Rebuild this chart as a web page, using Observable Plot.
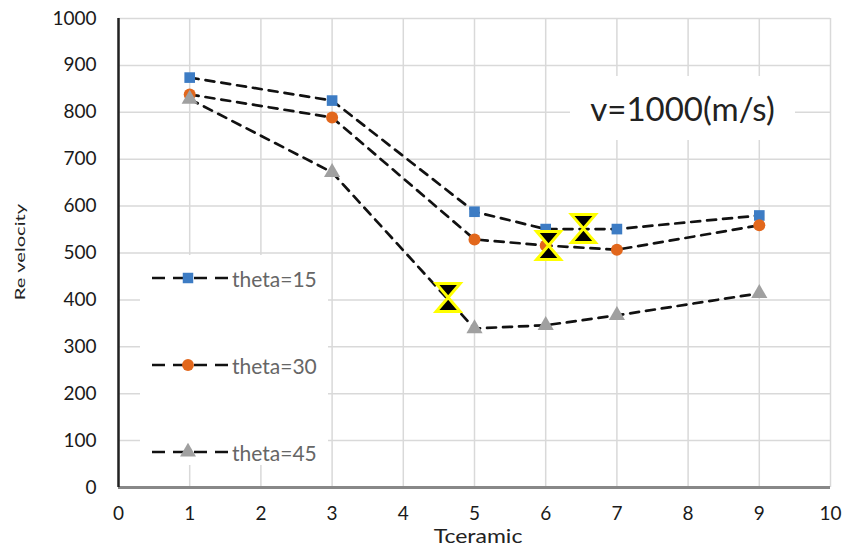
<!DOCTYPE html>
<html>
<head>
<meta charset="utf-8">
<script src="https://cdn.jsdelivr.net/npm/d3@7"></script>
<script src="https://cdn.jsdelivr.net/npm/@observablehq/plot@0.6"></script>
<style>
  html, body { margin: 0; padding: 0; background: #fff; }
  #wrap { position: relative; width: 853px; height: 549px; font-family: Lato, "Liberation Sans", sans-serif; }
  .legend { position: absolute; left: 140px; top: 255px; width: 188px; height: 210px; background: #fff; }
  .legend .item { position: absolute; left: 0; display: flex; align-items: center; height: 24px; font-size: 21px; color: #666; }
  .note { position: absolute; left: 570px; top: 76px; width: 225px; height: 64px; background: #fff;
          display: flex; align-items: center; justify-content: center; font-size: 33px; color: #222; white-space: nowrap; }
  .ylab { position: absolute; left: 20px; top: 252px; transform: translate(-50%, -50%) rotate(-90deg) scaleX(1.55); font-size: 13px; color: #222; white-space: nowrap; }
  .xlab { position: absolute; left: 478px; top: 535px; transform: translate(-50%, -50%) scaleX(1.15); font-size: 20px; line-height: 20px; color: #222; white-space: nowrap; }
</style>
</head>
<body>
<div id="wrap"></div>
<script>
const xValues = [1, 3, 5, 6, 7, 9];
const theta15 = [874, 825, 588, 551, 551, 580];
const theta30 = [838, 789, 529, 516, 507, 559];
const theta45 = [828, 672, 339, 346, 367, 414];
const seriesNames = ["theta=15", "theta=30", "theta=45"];
const seriesColors = ["#3d7cc4", "#e2671c", "#a0a0a0"];
const seriesSymbols = ["square", "circle", "triangle"];
const markX = [4.63, 6.04, 6.53];
const markY = [405, 516, 552];
const xTicks = [0, 1, 2, 3, 4, 5, 6, 7, 8, 9, 10];
const yTicks = [0, 100, 200, 300, 400, 500, 600, 700, 800, 900, 1000];
const note = "v=1000(m/s)";
const xLabel = "Tceramic";
const yLabel = "Re velocity";

const allSeries = [theta15, theta30, theta45];
const data = [];
allSeries.forEach((vals, si) => vals.forEach((v, i) => data.push({series: seriesNames[si], x: xValues[i], y: v})));
const marks = markX.map((x, i) => ({x, y: markY[i]}));

const hourglass = {
  draw(context, size) {
    const w = 12, h = 14;
    context.moveTo(-w, -h);
    context.lineTo(w, -h);
    context.lineTo(-w, h);
    context.lineTo(w, h);
    context.closePath();
  }
};

const chart = Plot.plot({
  width: 853,
  height: 549,
  marginLeft: 118,
  marginRight: 23,
  marginTop: 18,
  marginBottom: 62,
  style: {fontFamily: "Lato, 'Liberation Sans', sans-serif", background: "#fff"},
  x: {domain: [0, 10]},
  y: {domain: [0, 1000]},
  symbol: {domain: seriesNames, range: seriesSymbols},
  color: {domain: seriesNames, range: seriesColors},
  marks: [
    Plot.gridX(xTicks, {stroke: "#d9d9d9", strokeOpacity: 1, strokeWidth: 1.5}),
    Plot.gridY(yTicks, {stroke: "#d9d9d9", strokeOpacity: 1, strokeWidth: 1.5}),
    Plot.axisX(xTicks, {tickSize: 0, tickPadding: 19, fontSize: 19, fill: "#1a1a1a", label: null, tickFormat: d => String(d)}),
    Plot.axisY(yTicks, {tickSize: 0, tickPadding: 22, fontSize: 19, fill: "#1a1a1a", label: null, tickFormat: d => String(d)}),
    Plot.ruleY([0], {stroke: "#888", strokeWidth: 3}),
    Plot.ruleX([0], {stroke: "#222", strokeWidth: 2.5}),
    Plot.line(data, {x: "x", y: "y", z: "series", stroke: "#111", strokeWidth: 2.7, strokeDasharray: "9,7"}),
    Plot.dot(data, {x: "x", y: "y", symbol: "series", fill: "series", r: 6, stroke: "none"}),
    Plot.dot(marks, {x: "x", y: "y", symbol: hourglass, fill: "#000", stroke: "#ffff00", strokeWidth: 3, r: 5})
  ]
});

const wrap = document.getElementById("wrap");
wrap.appendChild(chart);

// legend
const legend = document.createElement("div");
legend.className = "legend";
const symPath = {square: d3.symbolSquare, circle: d3.symbolCircle, triangle: d3.symbolTriangle};
seriesNames.forEach((name, i) => {
  const item = document.createElement("div");
  item.className = "item";
  item.style.top = (11 + i * 87) + "px";
  const svg = d3.create("svg").attr("width", 92).attr("height", 24);
  svg.append("line").attr("x1", 12).attr("x2", 88).attr("y1", 12).attr("y2", 12)
    .attr("stroke", "#111").attr("stroke-width", 2.7).attr("stroke-dasharray", "13,8");
  svg.append("path").attr("transform", "translate(48,12)")
    .attr("d", d3.symbol(symPath[seriesSymbols[i]], 110)())
    .attr("fill", seriesColors[i]);
  item.appendChild(svg.node());
  const span = document.createElement("span");
  span.textContent = name;
  item.appendChild(span);
  legend.appendChild(item);
});
wrap.appendChild(legend);

const n = document.createElement("div");
n.className = "note";
n.textContent = note;
wrap.appendChild(n);

const yl = document.createElement("div");
yl.className = "ylab";
yl.textContent = yLabel;
wrap.appendChild(yl);

const xl = document.createElement("div");
xl.className = "xlab";
xl.textContent = xLabel;
wrap.appendChild(xl);
</script>
</body>
</html>
